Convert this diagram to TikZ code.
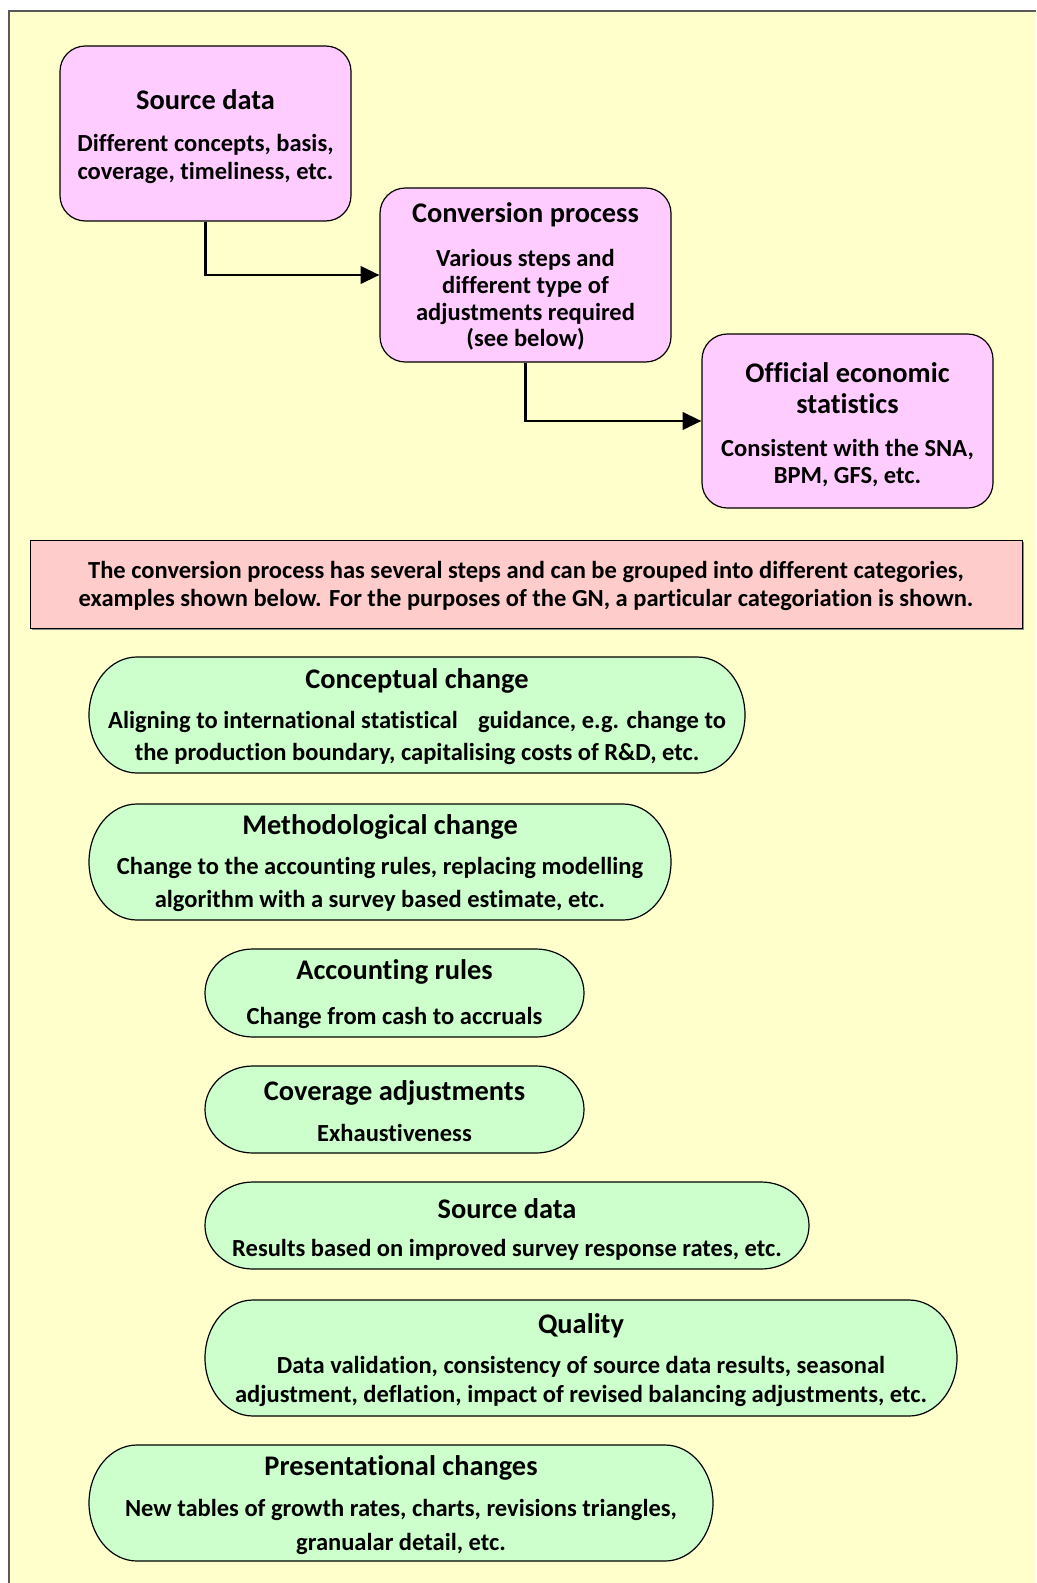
\documentclass[tikz,border=0pt]{standalone}
\usepackage{fontspec}
\setmainfont{Carlito}[Ligatures={NoCommon,NoContextual},RawFeature={-liga;-clig}]
\usetikzlibrary{arrows.meta}
\definecolor{bgc}{HTML}{FFFFCC}
\definecolor{pinkc}{HTML}{FFCCFF}
\definecolor{bannerc}{HTML}{FFCCCC}
\definecolor{greenc}{HTML}{CCFFCC}
\definecolor{framec}{HTML}{595959}
\newcommand\pillpath[4]{%
  \path[pillshape] (#1+48,#2) -- (#3-48,#2)
    arc[start angle=-90,end angle=90,x radius=48,y radius={(#4-#2)/2}]
    -- (#1+48,#4)
    arc[start angle=90,end angle=270,x radius=48,y radius={(#4-#2)/2}]
    -- cycle;}
\begin{document}
\begin{tikzpicture}[x=0.75pt,y=-0.75pt,
  ttl/.style={font=\bfseries\fontsize{21.3}{25}\selectfont, inner sep=0, align=center},
  bdy/.style={font=\bfseries\fontsize{18.4}{#1}\selectfont, align=center, inner sep=0},
  bdy/.default=20.6pt,
  pinkbox/.style={draw=black, line width=0.9pt, fill=pinkc, rounded corners=19pt, inner sep=0},
  pillshape/.style={draw=black, line width=0.9pt, fill=greenc},
  conn/.style={line width=1.8pt, -{Triangle[length=14pt,width=13pt]}},
]
\useasboundingbox (0,0) rectangle (1036,1583);
\fill[bgc] (9,11) rectangle (1036,1583);
\draw[framec, line width=1.5pt] (9,1583) -- (9,11) -- (1036,11);

% top pink boxes
\node[pinkbox, minimum width=218.25pt, minimum height=131.25pt] (src) at (205.5,133.5) {};
\node[pinkbox, minimum width=218.25pt, minimum height=130.5pt] (conv) at (525.5,275) {};
\node[pinkbox, minimum width=218.25pt, minimum height=130.5pt] (off) at (847.5,421) {};

\draw[conn] (src.south) |- (conv.west);
\draw[conn] (conv.south) |- (off.west);

% banner
\fill[black!45] (32,542) rectangle (1024,630);
\node[draw=black, line width=0.6pt, fill=bannerc, minimum width=744pt, minimum height=66pt, inner sep=0] (ban) at (526,584) {};

% green pills
\pillpath{89}{657}{745}{773}
\pillpath{89}{804}{671}{920}
\pillpath{205}{949}{584}{1037}
\pillpath{205}{1066}{584}{1153}
\pillpath{205}{1182}{809}{1269}
\pillpath{205}{1300}{957}{1416}
\pillpath{89}{1445}{713}{1561}

\begin{scope}[shift={(0,2)}]
\node[ttl] (srct) at (205.5,98) {Source data};
\node[bdy=21pt] (srcb) at (205.5,157) {Different concepts, basis,\\coverage, timeliness, etc.};
\node[ttl] (convt) at (525.5,213) {Conversion process};
\node[bdy=19.9pt] (convb) at (525.5,298) {Various steps and\\different type of\\adjustments required\\(see below)};
\node[ttl, font=\bfseries\fontsize{21.3}{22.9}\selectfont] (offt) at (847.5,386) {Official economic\\statistics};
\node[bdy=20.6pt] (offb) at (847.5,461) {Consistent with the SNA,\\BPM, GFS, etc.};

\node[bdy=20.6pt] (bant) at (526,584) {The conversion process has several steps and can be grouped into different categories,\\examples shown below. For the purposes of the GN, a particular categoriation is shown.};

\node[ttl] (conct) at (417,678.5) {Conceptual change};
\node[bdy=24pt] (concb) at (417,736) {Aligning to international statistical\hspace{0.6em} guidance, e.g. change to\\the production boundary, capitalising costs of R\&D, etc.};
\node[ttl] (metht) at (380,825) {Methodological change};
\node[bdy=24.75pt] (methb) at (380,882.5) {Change to the accounting rules, replacing modelling\\algorithm with a survey based estimate, etc.};
\node[ttl] (acct) at (394.5,970) {Accounting rules};
\node[bdy] (accb) at (394.5,1016) {Change from cash to accruals};
\node[ttl] (covt) at (394.5,1090.5) {Coverage adjustments};
\node[bdy] (covb) at (394.5,1131) {Exhaustiveness};
\node[ttl] (sd2t) at (507,1206.5) {Source data};
\node[bdy] (sd2b) at (507,1248) {Results based on improved survey response rates, etc.};
\node[ttl] (qualt) at (581,1324) {Quality};
\node[bdy=21.75pt] (qualb) at (581,1379.5) {Data validation, consistency of source data results, seasonal\\adjustment, deflation, impact of revised balancing adjustments, etc.};
\node[ttl] (prest) at (401,1466) {Presentational changes};
\node[bdy=25pt] (presb) at (401,1525) {New tables of growth rates, charts, revisions triangles,\\granualar detail, etc.};
\end{scope}
\end{tikzpicture}
\end{document}
